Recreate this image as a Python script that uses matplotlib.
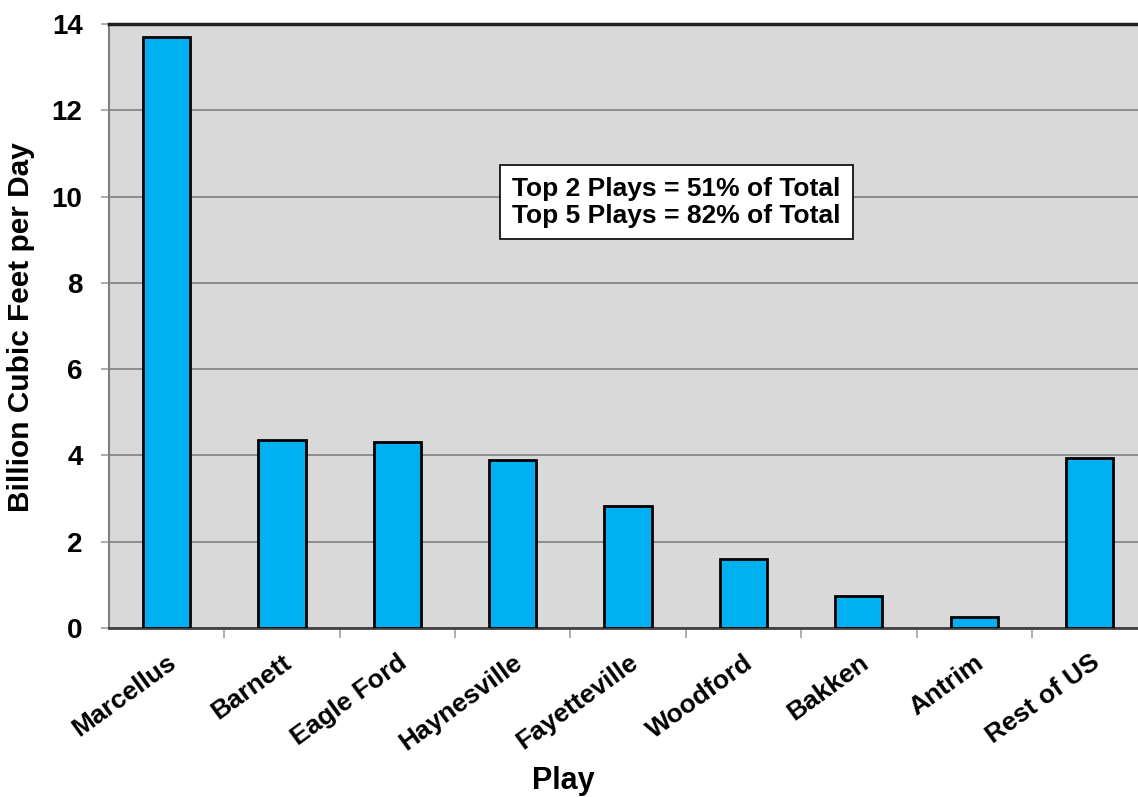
import matplotlib
matplotlib.use("Agg")
import matplotlib.pyplot as plt

plays = ["Marcellus", "Barnett", "Eagle Ford", "Haynesville", "Fayetteville",
         "Woodford", "Bakken", "Antrim", "Rest of US"]
values = [13.7, 4.36, 4.31, 3.89, 2.83, 1.61, 0.74, 0.26, 3.94]
yticks = [0, 2, 4, 6, 8, 10, 12, 14]
note = "Top 2 Plays = 51% of Total\nTop 5 Plays = 82% of Total"

plt.rcParams['font.family'] = ['Liberation Sans', 'DejaVu Sans']
plt.rcParams['font.weight'] = 'bold'

fig = plt.figure(figsize=(11.38, 7.97), dpi=100)
ax = fig.add_axes([109/1138, 1 - 628/797, 1 - 109/1138, (628-24)/797])
ax.set_facecolor('#d9d9d9')

x = list(range(len(plays)))
ax.bar(x, values, width=0.41, color='#00b0f0', edgecolor='black', linewidth=2, zorder=3)

ax.set_xlim(-0.5, 8.42)
ax.set_ylim(0, 14)
ax.set_yticks(yticks)
ax.set_yticklabels([str(v) for v in yticks], fontsize=20, fontweight='bold')
ax.yaxis.grid(True, color='#808080', linewidth=1.2, zorder=1)
ax.set_axisbelow(True)

ax.set_xticks(x)
ax.set_xticklabels(plays, rotation=36, ha='right', rotation_mode='anchor',
                   fontsize=19, fontweight='bold')
ax.tick_params(axis='x', length=0, pad=16)
ax.set_xticks([i + 0.5 for i in range(len(plays) - 1)], minor=True)
ax.tick_params(axis='x', which='minor', length=7, color='#a0a0a0', width=1.2)
ax.tick_params(axis='y', length=6, color='#a0a0a0', width=1.2, pad=13)

ax.spines['left'].set_color('#808080')
ax.spines['left'].set_linewidth(1.5)
ax.spines['bottom'].set_color('#404040')
ax.spines['bottom'].set_linewidth(2)
ax.spines['top'].set_color('#202020')
ax.spines['top'].set_linewidth(2.5)
ax.spines['right'].set_visible(False)

ax.set_ylabel("Billion Cubic Feet per Day", fontsize=21.5, fontweight='bold')
ax.yaxis.set_label_coords((35 - 109) / 1029, (628 - 327) / 604)
ax.set_xlabel("Play", fontsize=22, fontweight='bold')
ax.xaxis.set_label_coords((563 - 109) / 1029, (628 - 766) / 604)

ax.text(4.42, 9.87, note, ha='center', va='center', fontsize=19, fontweight='bold',
        linespacing=1.15,
        bbox=dict(boxstyle='square,pad=0.45', facecolor='white', edgecolor='black', linewidth=1.2),
        zorder=5)

fig.savefig("out.png", dpi=100)
